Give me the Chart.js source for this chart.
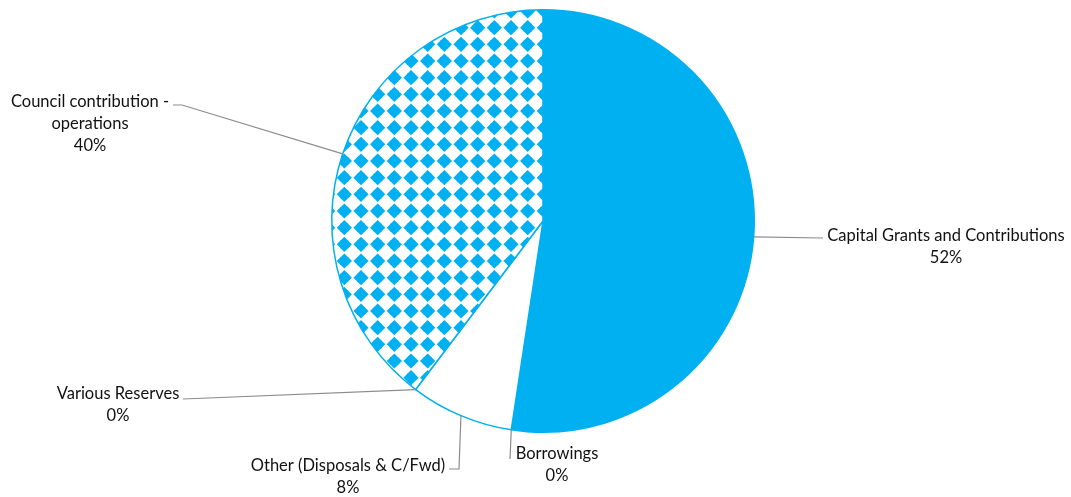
<!DOCTYPE html>
<html>
<head>
<meta charset="utf-8">
<script src="https://cdn.jsdelivr.net/npm/chart.js@4"></script>
<style>
  html, body { margin: 0; padding: 0; background: #fff; }
  #wrap { width: 1071px; height: 497px; }
</style>
</head>
<body>
<div id="wrap"><canvas id="pie" width="1071" height="497"></canvas></div>
<script>
const categories = [
    "Capital Grants and Contributions",
    "Borrowings",
    "Other (Disposals & C/Fwd)",
    "Various Reserves",
    "Council contribution - operations"
];
const shares = [52.4, 0, 7.9, 0, 39.7];
const pctLabels = ["52%", "0%", "8%", "0%", "40%"];

const blue = "#00B0F0";

// diamond grid fill for the council slice
function diamondPattern() {
    const tile = document.createElement("canvas");
    tile.width = 50;
    tile.height = 50;
    const t = tile.getContext("2d");
    t.fillStyle = "#fff";
    t.fillRect(0, 0, 50, 50);
    t.fillStyle = blue;
    const step = 50 / 3;
    const h = 7.6;
    for (let i = -1; i <= 3; i++) {
        for (let j = -1; j <= 3; j++) {
            const cx = 11 + i * step;
            const cy = 11 + j * step;
            t.beginPath();
            t.moveTo(cx, cy - h);
            t.lineTo(cx + h, cy);
            t.lineTo(cx, cy + h);
            t.lineTo(cx - h, cy);
            t.closePath();
            t.fill();
            t.fillRect(cx - 4, cy - 4, 8, 8);
        }
    }
    return t.createPattern(tile, "repeat");
}

// where each label sits (leader line path after the slice point, text centre)
const labelLayout = [
    { path: [[823, 238]], x: 946, y: 236, lines: ["Capital Grants and Contributions"] },
    { path: [[510, 459]], x: 557, y: 454, lines: ["Borrowings"] },
    { path: [[459, 469], [449, 469]], x: 348, y: 466, lines: ["Other (Disposals & C/Fwd)"] },
    { path: [[183, 399]], x: 118, y: 394, lines: ["Various Reserves"] },
    { path: [[182, 105], [173, 105]], x: 90, y: 102, lines: ["Council contribution -", "operations"] }
];

const leaderLabels = {
    id: "leaderLabels",
    afterDatasetsDraw(chart) {
        const ctx = chart.ctx;
        const arcs = chart.getDatasetMeta(0).data;
        ctx.save();
        arcs.forEach((arc, i) => {
            const p = arc.getProps(["x", "y", "startAngle", "endAngle", "outerRadius"], true);
            const mid = (p.startAngle + p.endAngle) / 2;
            const ax = p.x + Math.cos(mid) * p.outerRadius;
            const ay = p.y + Math.sin(mid) * p.outerRadius;
            const lay = labelLayout[i];

            ctx.strokeStyle = "#8c8c8c";
            ctx.lineWidth = 1.2;
            ctx.beginPath();
            ctx.moveTo(ax, ay);
            lay.path.forEach(pt => ctx.lineTo(pt[0], pt[1]));
            ctx.stroke();

            ctx.fillStyle = "#111";
            ctx.font = "16.5px Lato";
            ctx.textAlign = "center";
            ctx.textBaseline = "middle";
            const lines = lay.lines.concat([pctLabels[i]]);
            lines.forEach((txt, k) => ctx.fillText(txt, lay.x, lay.y + k * 22));
        });
        ctx.restore();
    }
};

const context = document.getElementById("pie").getContext("2d");
const pie = new Chart(context, {
    type: "pie",
    data: {
        labels: categories,
        datasets: [{
            data: shares,
            backgroundColor: [blue, blue, "#ffffff", blue, diamondPattern()],
            borderColor: blue,
            borderWidth: 1.5,
            hoverOffset: 0
        }]
    },
    options: {
        responsive: false,
        animation: false,
        layout: { padding: { top: 9, bottom: 64, left: 15, right: 0 } },
        plugins: {
            legend: { display: false },
            tooltip: { enabled: false }
        }
    },
    plugins: [leaderLabels]
});
</script>
</body>
</html>
